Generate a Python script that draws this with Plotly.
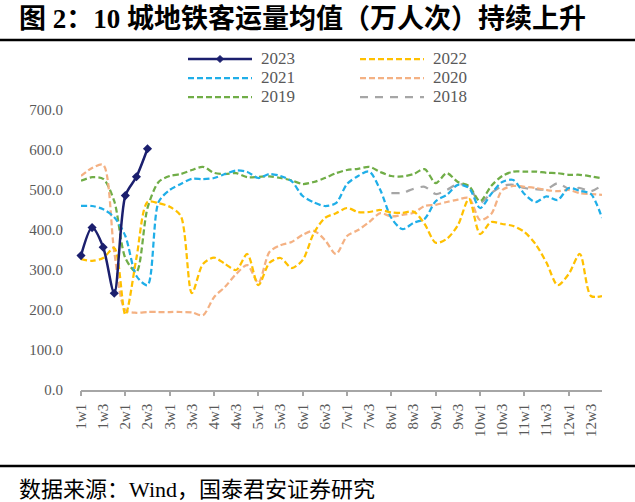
import plotly.graph_objects as go

categories = ["1w1", "1w2", "1w3", "1w4", "2w1", "2w2", "2w3", "2w4",
              "3w1", "3w2", "3w3", "3w4", "4w1", "4w2", "4w3", "4w4",
              "5w1", "5w2", "5w3", "5w4", "6w1", "6w2", "6w3", "6w4",
              "7w1", "7w2", "7w3", "7w4", "8w1", "8w2", "8w3", "8w4",
              "9w1", "9w2", "9w3", "9w4", "10w1", "10w2", "10w3", "10w4",
              "11w1", "11w2", "11w3", "11w4", "12w1", "12w2", "12w3", "12w4"]

v2023 = [336, 406, 357, 242, 486, 533, 603]

v2022 = [327, 323, 330, 355, 188, 330, 470, 467, 458, 435, 242, 315,
         331, 315, 300, 340, 262, 318, 330, 305, 325, 392, 430, 442,
         455, 445, 445, 450, 444, 443, 446, 415, 368, 378, 412, 478,
         390, 420, 415, 410, 395, 365, 318, 262, 290, 340, 235, 235]

v2021 = [460, 460, 452, 432, 385, 285, 262, 470, 500, 515, 528, 527,
         530, 540, 549, 545, 530, 540, 535, 522, 485, 469, 460, 467,
         515, 535, 546, 500, 430, 402, 418, 428, 472, 488, 513, 505,
         455, 490, 520, 525, 490, 470, 484, 475, 505, 498, 490, 430]

v2020 = [535, 555, 563, 345, 200, 193, 195, 195, 195, 195, 194, 187,
         232, 258, 290, 312, 268, 345, 362, 370, 388, 398, 375, 340,
         385, 400, 420, 442, 434, 438, 443, 460, 463, 470, 476, 480,
         425, 440, 500, 510, 508, 505, 500, 497, 500, 492, 490, 488]

v2019 = [523, 532, 528, 472, 330, 295, 455, 520, 535, 540, 550, 558,
         543, 540, 542, 532, 533, 534, 530, 524, 515, 520, 530, 542,
         550, 553, 558, 545, 535, 534, 540, 552, 517, 542, 520, 510,
         472, 510, 535, 546, 546, 546, 543, 542, 538, 538, 534, 529]

v2018 = [None, None, None, None, None, None, None, None, None, None, None, None,
         None, None, None, None, None, None, None, None, None, None, None, None,
         None, None, None, None, 492, 493, 503, 508, 490, 500, 515, 508,
         468, 492, 510, 513, 505, 502, 502, 517, 503, 505, 497, 512]

series_names = ["2023", "2022", "2021", "2020", "2019", "2018"]
y_ticks = [0, 100, 200, 300, 400, 500, 600, 700]

# ---- styling ----
colors = {"2023": "#1B1F6E", "2022": "#FFC000", "2021": "#1FAEE8",
          "2020": "#F4B183", "2019": "#70AD47", "2018": "#A6A6A6"}
dashes = {"2023": "solid", "2022": "6px,3px", "2021": "6px,3px",
          "2020": "6px,3px", "2019": "6px,3px", "2018": "8px,7px"}
data = {"2023": v2023, "2022": v2022, "2021": v2021, "2020": v2020,
        "2019": v2019, "2018": v2018}

W, H = 635, 502
L, R, T, B = 81, 33, 110, 112
PW, PH = W - L - R, H - T - B


def pxx(x):
    return (x - L) / PW


def pxy(y):
    return (H - B - y) / PH


pos = list(range(len(categories)))
fig = go.Figure()

for name in ["2018", "2019", "2020", "2021", "2022", "2023"]:
    vals = data[name]
    is23 = name == "2023"
    fig.add_trace(go.Scatter(
        x=pos[:len(vals)], y=vals, name=name,
        mode="lines+markers" if is23 else "lines",
        line=dict(color=colors[name], width=2.5 if is23 else 2.25,
                  dash=dashes[name], shape="spline", smoothing=0.8),
        marker=dict(symbol="diamond", size=7, color=colors[name]),
        cliponaxis=False,
        connectgaps=False, showlegend=False, hoverinfo="skip"))

# invisible trace so the tick-mark axis is drawn
fig.add_trace(go.Scatter(x=[0], y=[None], xaxis="x2", showlegend=False,
                         hoverinfo="skip", mode="lines"))

tickfont = dict(family="Liberation Serif", size=15, color="#595959")

fig.update_layout(
    width=W, height=H,
    margin=dict(l=L, r=R, t=T, b=B, pad=0),
    paper_bgcolor="white", plot_bgcolor="white",
    xaxis=dict(range=[0, len(categories) - 1], tickmode="array",
               tickvals=pos[::2], ticktext=categories[::2],
               tickangle=-90, ticks="", showgrid=False, zeroline=False,
               showline=True, linecolor="#A6A6A6", linewidth=1.5,
               tickfont=tickfont, ticklabelstandoff=6),
    xaxis2=dict(range=[0, len(categories) - 1], overlaying="x", anchor="y",
                side="bottom", tickmode="array", tickvals=pos[::4],
                ticktext=[""] * len(pos[::4]), ticks="outside", ticklen=5,
                tickwidth=1.5, tickcolor="#A6A6A6", showgrid=False,
                zeroline=False, showline=False, showticklabels=False),
    yaxis=dict(range=[0, 700], tickmode="array", tickvals=y_ticks,
               ticktext=[f"{v:.1f}" for v in y_ticks], showgrid=False,
               zeroline=False, showline=False, ticks="",
               tickfont=tickfont, ticklabelstandoff=17),
)

shapes = []
annotations = []

# rules
for yy in (40, 466):
    shapes.append(dict(type="line", xref="paper", yref="paper",
                       x0=pxx(0), x1=pxx(W), y0=pxy(yy), y1=pxy(yy),
                       line=dict(color="black", width=2.5)))

# title & source
annotations.append(dict(
    xref="paper", yref="paper", x=pxx(17), y=pxy(18), xanchor="left",
    yanchor="middle", showarrow=False,
    text="<b>图 2：10 城地铁客运量均值（万人次）持续上升</b>",
    font=dict(family="Liberation Serif, Noto Sans CJK SC", size=27, color="black")))
annotations.append(dict(
    xref="paper", yref="paper", x=pxx(17), y=pxy(489), xanchor="left",
    yanchor="middle", showarrow=False,
    text="数据来源：Wind，国泰君安证券研究",
    font=dict(family="Liberation Serif, Noto Sans CJK SC", size=22, color="black")))

# manual legend (2 columns x 3 rows)
leg_cols = [(188, 252, 259), (360, 424, 431)]
leg_rows = [59, 78, 97]
for i, name in enumerate(series_names):
    x0, x1, xt = leg_cols[i % 2]
    yy = leg_rows[i // 2]
    shapes.append(dict(type="line", xref="paper", yref="paper",
                       x0=pxx(x0), x1=pxx(x1), y0=pxy(yy), y1=pxy(yy),
                       line=dict(color=colors[name],
                                 width=2.5 if name == "2023" else 2.25,
                                 dash=dashes[name])))
    if name == "2023":
        cx = (x0 + x1) / 2
        d = 3.5
        path = (f"M {pxx(cx - d)} {pxy(yy)} L {pxx(cx)} {pxy(yy - d)} "
                f"L {pxx(cx + d)} {pxy(yy)} L {pxx(cx)} {pxy(yy + d)} Z")
        shapes.append(dict(type="path", xref="paper", yref="paper", path=path,
                           fillcolor=colors[name], line=dict(color=colors[name], width=1)))
    annotations.append(dict(
        xref="paper", yref="paper", x=pxx(xt), y=pxy(yy), xanchor="left",
        yanchor="middle", showarrow=False, text=name,
        font=dict(family="Liberation Serif", size=17, color="#595959")))

fig.update_layout(shapes=shapes, annotations=annotations)

fig.write_html("out.html")
